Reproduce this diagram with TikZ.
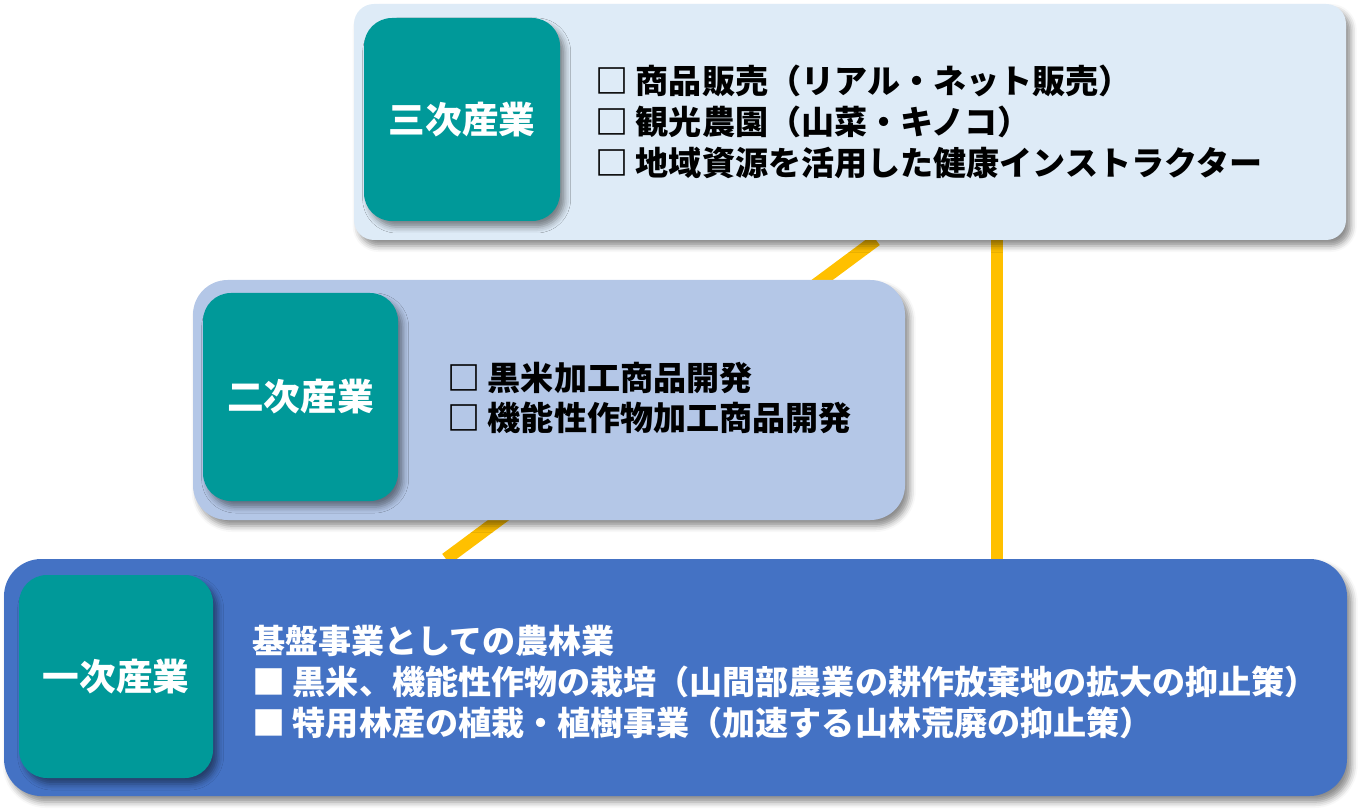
\documentclass[tikz,border=0pt]{standalone}
\usepackage{fontspec}
\newfontfamily\jp{Noto Sans CJK JP}
\usetikzlibrary{shadows.blur}
\definecolor{pale}{HTML}{DEEBF7}
\definecolor{mid}{HTML}{B4C7E7}
\definecolor{deep}{HTML}{4472C4}
\definecolor{tealc}{HTML}{009999}
\definecolor{gold}{HTML}{FFC000}
\pgfdeclarelayer{bg}
\pgfsetlayers{bg,main}
\newcommand\panelnode[7]{%
  \node[#2, minimum width={(#5-#3)*0.75pt}, minimum height={(#6-#4)*0.75pt}] (#1) at (#3,#4) {#7};}
\begin{document}
\begin{tikzpicture}[x=0.75pt,y=-0.75pt,
  panel/.style={rectangle, anchor=north west, inner sep=0pt, outer sep=0pt,
    blur shadow={shadow xshift=3.5pt, shadow yshift=-4.5pt, shadow blur radius=4.5pt, shadow opacity=45}},
  tag/.style={panel, fill=tealc, text=white, rounded corners=21pt,
    font=\jp\bfseries\fontsize{27.5}{30}\selectfont},
  body/.style={anchor=west, align=left, inner sep=0pt,
    font=\jp\bfseries\fontsize{24.8}{30.5}\selectfont},
  conn/.style={draw=gold, line width=9.5pt}]
\useasboundingbox (0,0) rectangle (1359,812);
% panels
\panelnode{box3}{panel, fill=pale, rounded corners=15pt}{354}{4}{1346}{240}{}
\panelnode{tag3}{tag}{364}{18}{560}{221}{三次産業}
\node[body] (txt3) at (595,122) {□ 商品販売（リアル・ネット販売）\\□ 観光農園（山菜・キノコ）\\□ 地域資源を活用した健康インストラクター};
\panelnode{box2}{panel, fill=mid, rounded corners=26pt}{193}{280}{905}{520}{}
\panelnode{tag2}{tag}{203}{293}{398}{501}{二次産業}
\node[body] (txt2) at (447,398) {□ 黒米加工商品開発\\□ 機能性作物加工商品開発};
\panelnode{box1}{panel, fill=deep, rounded corners=28pt}{4}{559}{1347}{796}{}
\panelnode{tag1}{tag}{19}{575}{213}{778}{一次産業}
\node[body, text=white] (txt1) at (252,682) {基盤事業としての農林業\\■ 黒米、機能性作物の栽培（山間部農業の耕作放棄地の拡大の抑止策）\\■ 特用林産の植栽・植樹事業（加速する山林荒廃の抑止策）};
% connectors
\begin{pgfonlayer}{bg}
\draw[conn] ([xshift=391.5pt]box3.south west) -- ([xshift=331.5pt]box1.north west);
\draw[conn] ([xshift=482.25pt]box3.south west) -- ([xshift=744.75pt]box1.north west);
\end{pgfonlayer}
\end{tikzpicture}
\end{document}
